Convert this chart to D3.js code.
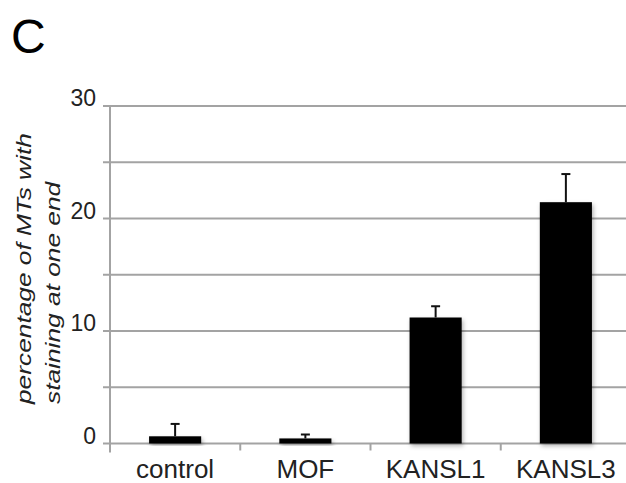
<!DOCTYPE html>
<html><head><meta charset="utf-8">
<script src="https://cdn.jsdelivr.net/npm/d3@7"></script>
<style>body{margin:0;background:#fff}svg{display:block}text{font-family:"Liberation Sans",Arial,sans-serif}</style>
</head><body>
<script>
const categories = ["control", "MOF", "KANSL1", "KANSL3"];
const values = [0.64, 0.45, 11.2, 21.45];
const errors = [1.1, 0.35, 1.0, 2.5];
const yTicks = [0, 10, 20, 30];
const gridTicks = [0, 5, 10, 15, 20, 25, 30];
const panelLabel = "C";
const yTitle = ["percentage of MTs with", "staining at one end"];

const W = 626, H = 483;
const svg = d3.select("body").append("svg").attr("width", W).attr("height", H);
const defs = svg.append("defs");
const f = defs.append("filter").attr("id","sh").attr("x","-20%").attr("y","-20%").attr("width","150%").attr("height","150%");
f.append("feDropShadow").attr("dx",1.5).attr("dy",2.5).attr("stdDeviation",2).attr("flood-color","#000").attr("flood-opacity",0.3);

const x0 = 110, x1 = 631, yTop = 106, yBot = 443.5;
const x = d3.scaleBand().domain(categories).range([x0, x1]).paddingInner(0.6).paddingOuter(0.3);
const y = d3.scaleLinear().domain([0, 30]).range([yBot, yTop]);
const grey = "#a3a3a3";

// gridlines
svg.append("g").selectAll("line").data(gridTicks).join("line")
  .attr("x1", 103).attr("x2", W).attr("y1", d => y(d)).attr("y2", d => y(d))
  .attr("stroke", grey).attr("stroke-width", 2);
// y axis line
svg.append("line").attr("x1", x0).attr("x2", x0).attr("y1", yTop).attr("y2", yBot + 9)
  .attr("stroke", grey).attr("stroke-width", 2);
// x tick marks between categories
const band = (x1 - x0) / categories.length;
svg.append("g").selectAll("line").data(d3.range(1, categories.length)).join("line")
  .attr("x1", i => x0 + i * band).attr("x2", i => x0 + i * band)
  .attr("y1", yBot).attr("y2", yBot + 7).attr("stroke", grey).attr("stroke-width", 2);

// y tick labels
svg.append("g").selectAll("text").data(yTicks).join("text")
  .attr("x", 96).attr("y", d => y(d)).attr("text-anchor", "end")
  .attr("font-size", 23).attr("fill", "#222").text(d => d);

// bars
svg.append("g").selectAll("rect").data(categories).join("rect")
  .attr("x", d => x(d)).attr("width", x.bandwidth())
  .attr("y", (d, i) => y(values[i])).attr("height", (d, i) => yBot - y(values[i]))
  .attr("fill", "#060606").attr("filter", "url(#sh)");

// error bars
const eb = svg.append("g").attr("stroke", "#111").attr("stroke-width", 2);
categories.forEach((c, i) => {
  const cx = x(c) + x.bandwidth() / 2;
  eb.append("line").attr("x1", cx).attr("x2", cx).attr("y1", y(values[i])).attr("y2", y(values[i] + errors[i]));
  eb.append("line").attr("x1", cx - 4.5).attr("x2", cx + 4.5).attr("y1", y(values[i] + errors[i])).attr("y2", y(values[i] + errors[i]));
});

// category labels
svg.append("g").selectAll("text").data(categories).join("text")
  .attr("x", d => x(d) + x.bandwidth() / 2).attr("y", 477.5).attr("text-anchor", "middle")
  .attr("font-size", 26).attr("fill", "#222").text(d => d);

// y title (slightly condensed in thickness, as in the reference)
const yt = svg.append("g");
yt.append("text").attr("transform", "translate(31,404) rotate(-90) scale(1,0.78)").attr("text-anchor", "start")
  .attr("font-size", 26.3).attr("font-style", "italic").attr("fill", "#222").text(yTitle[0]);
yt.append("text").attr("transform", "translate(60,404) rotate(-90) scale(1,0.78)").attr("text-anchor", "start")
  .attr("font-size", 26.3).attr("font-style", "italic").attr("fill", "#222").text(yTitle[1]);

// panel label
svg.append("text").attr("x", 11).attr("y", 53).attr("font-size", 48).attr("fill", "#000").text(panelLabel);
</script>
</body></html>
